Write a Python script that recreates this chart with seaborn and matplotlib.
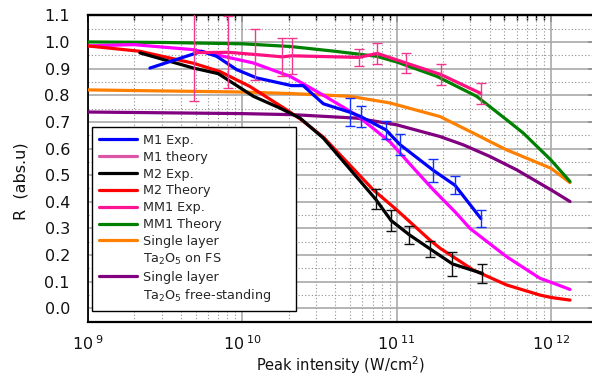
import numpy as np
import pandas as pd
import matplotlib
matplotlib.use("Agg")
import matplotlib.pyplot as plt
from matplotlib.lines import Line2D
from matplotlib.ticker import LogLocator, MultipleLocator, FuncFormatter, NullFormatter
import seaborn as sns

# ---- data: reflectivity R vs. peak intensity (W/cm^2) ----
m1_exp_x = [2.52e9, 5.46e9, 6.82e9, 9.2e9, 1.24e10, 2.09e10, 2.48e10, 3.35e10,
            4.99e10, 5.85e10, 8.53e10, 1.05e11, 1.73e11, 2.39e11, 3.52e11]
m1_exp_y = [0.902, 0.965, 0.946, 0.896, 0.865, 0.836, 0.836, 0.768,
            0.736, 0.720, 0.670, 0.615, 0.518, 0.462, 0.337]
m1_exp_err = [np.nan] * 8 + [0.053, 0.040, 0.035, 0.039, 0.042, 0.033, 0.033]

m1_th_x = [1e9, 1.97e9, 4.82e9, 1.18e10, 2.04e10, 3.35e10, 5.51e10, 9.06e10,
           1.28e11, 1.73e11, 2.44e11, 2.99e11, 5.16e11, 8.49e11, 1e12, 1.33e12]
m1_th_y = [0.985, 0.990, 0.971, 0.921, 0.871, 0.800, 0.725, 0.625,
           0.528, 0.445, 0.357, 0.300, 0.194, 0.113, 0.098, 0.071]

m2_exp_x = [2.17e9, 4.82e9, 6.98e9, 1.18e10, 1.75e10, 2.37e10, 3.35e10,
            7.31e10, 9.2e10, 1.21e11, 1.64e11, 2.3e11, 3.6e11]
m2_exp_y = [0.959, 0.902, 0.881, 0.796, 0.752, 0.714, 0.639,
            0.410, 0.330, 0.276, 0.224, 0.167, 0.131]
m2_exp_err = [np.nan] * 7 + [0.038, 0.038, 0.035, 0.030, 0.046, 0.035]

m2_th_x = [1e9, 2.17e9, 4.82e9, 7.16e9, 1.12e10, 1.94e10, 2.37e10, 3.35e10,
           7.06e10, 1e11, 1.64e11, 1.91e11, 3.14e11, 5.16e11, 8.49e11, 1e12, 1.33e12]
m2_th_y = [0.985, 0.965, 0.920, 0.889, 0.833, 0.745, 0.711, 0.643,
           0.445, 0.370, 0.257, 0.226, 0.144, 0.088, 0.050, 0.041, 0.031]

mm1_exp_x = [4.89e9, 8.11e9, 1.21e10, 1.82e10, 2.09e10, 5.7e10, 7.5e10,
             1.15e11, 1.93e11, 3.51e11]
mm1_exp_y = [0.960, 0.961, 0.953, 0.944, 0.948, 0.942, 0.957, 0.921, 0.878, 0.807]
mm1_exp_err = [0.180, 0.135, 0.095, 0.071, 0.068, 0.032, 0.040, 0.038, 0.039, 0.039]

mm1_th_x = [1e9, 3.16e9, 1e10, 2.04e10, 3.98e10, 7.43e10, 1e11, 1.82e11,
            3.3e11, 5.16e11, 6.62e11, 1e12, 1.33e12]
mm1_th_y = [1.000, 0.998, 0.993, 0.983, 0.965, 0.946, 0.925, 0.871,
            0.796, 0.708, 0.658, 0.557, 0.476]

fs_x = [1e9, 1e10, 2.14e10, 4.99e10, 9.06e10, 1.91e11, 3.14e11, 4.03e11,
        5.16e11, 1e12, 1.33e12]
fs_y = [0.820, 0.812, 0.806, 0.796, 0.771, 0.720, 0.658, 0.626,
        0.595, 0.526, 0.472]

free_x = [1e9, 1e10, 2.14e10, 5.51e10, 1e11, 1.91e11, 2.7e11, 4.03e11,
          6.0e11, 1e12, 1.33e12]
free_y = [0.737, 0.731, 0.727, 0.714, 0.689, 0.645, 0.614, 0.570,
          0.520, 0.445, 0.401]

series = {
    "Single layer Ta2O5 on FS": (fs_x, fs_y, "#ff8000"),
    "Single layer Ta2O5 free-standing": (free_x, free_y, "#800080"),
    "MM1 Theory": (mm1_th_x, mm1_th_y, "#008000"),
    "M1 theory": (m1_th_x, m1_th_y, "#ff00ff"),
    "M2 Theory": (m2_th_x, m2_th_y, "#ff0000"),
    "M2 Exp.": (m2_exp_x, m2_exp_y, "#000000"),
    "M1 Exp.": (m1_exp_x, m1_exp_y, "#0000ff"),
    "MM1 Exp.": (mm1_exp_x, mm1_exp_y, "#ff1080"),
}

frames = [pd.DataFrame({"intensity": xs, "R": ys, "series": name})
          for name, (xs, ys, _) in series.items()]
df = pd.concat(frames, ignore_index=True)
palette = {name: c for name, (_, _, c) in series.items()}

sns.set_theme(style="white")
plt.rcParams["font.family"] = ["DejaVu Sans"]
plt.rcParams["mathtext.default"] = "regular"

fig = plt.figure(figsize=(5.92, 3.79), dpi=100)
ax = fig.add_axes([88 / 592, 1 - 321.7 / 379, 505.5 / 592, 306.4 / 379])
ax.set_xscale("log")

sns.lineplot(data=df, x="intensity", y="R", hue="series", hue_order=list(series),
             palette=palette, estimator=None, sort=False, linewidth=2.3,
             legend=False, ax=ax, zorder=3)

def draw_errors(xs, ys, errs, color):
    xs, ys, errs = np.asarray(xs), np.asarray(ys), np.asarray(errs, dtype=float)
    keep = ~np.isnan(errs)
    ax.errorbar(xs[keep], ys[keep], yerr=errs[keep], fmt="none", ecolor=color,
                elinewidth=1.0, capsize=3.8, capthick=1.0, zorder=4)

draw_errors(mm1_exp_x, mm1_exp_y, mm1_exp_err, "#f0388c")
draw_errors(m1_exp_x, m1_exp_y, m1_exp_err, "#1030ff")
draw_errors(m2_exp_x, m2_exp_y, m2_exp_err, "#101010")

ax.set_xlim(1e9, 10 ** 12.276)
ax.set_ylim(-0.05, 1.1)

ax.xaxis.set_major_locator(LogLocator(base=10, numticks=10))
ax.xaxis.set_minor_locator(LogLocator(base=10, subs=np.arange(2, 10), numticks=20))
ax.xaxis.set_minor_formatter(NullFormatter())
ax.xaxis.set_major_formatter(FuncFormatter(
    lambda v, p: r"$10^{\;%d}$" % int(round(np.log10(v)))))
ax.yaxis.set_major_locator(MultipleLocator(0.1))
ax.yaxis.set_minor_locator(MultipleLocator(0.05))
ax.yaxis.set_major_formatter(FuncFormatter(lambda v, p: "%.1f" % v if v > -0.01 else ""))

ax.set_axisbelow(True)
ax.grid(which="major", color="#a9a9a9", linewidth=1.2, linestyle="-")
ax.grid(which="minor", color="#8f8f8f", linewidth=0.8, linestyle=(0, (1, 2)))

ax.tick_params(which="major", direction="out", length=5, width=1.1, color="black",
               labelsize=11.5, labelcolor="#111111")
ax.tick_params(which="minor", direction="out", length=3.5, width=1.0, color="black")
ax.tick_params(axis="x", which="major", pad=4)
ax.tick_params(axis="y", which="major", pad=8)

for side in ["left", "bottom", "top"]:
    ax.spines[side].set_color("black")
ax.spines["left"].set_linewidth(1.3)
ax.spines["bottom"].set_linewidth(1.6)
ax.spines["top"].set_linewidth(1.6)
ax.spines["right"].set_visible(False)

# inward ticks along the top and right edges
secx = ax.secondary_xaxis("top")
secx.xaxis.set_major_locator(LogLocator(base=10, numticks=10))
secx.xaxis.set_minor_locator(LogLocator(base=10, subs=np.arange(2, 10), numticks=20))
secx.xaxis.set_major_formatter(NullFormatter())
secx.xaxis.set_minor_formatter(NullFormatter())
secx.tick_params(which="major", direction="in", length=5, width=1.1, color="black")
secx.tick_params(which="minor", direction="in", length=3.5, width=1.0, color="black")
secx.spines["top"].set_linewidth(1.6)

secy = ax.secondary_yaxis("right")
secy.yaxis.set_major_locator(MultipleLocator(0.1))
secy.yaxis.set_minor_locator(MultipleLocator(0.05))
secy.yaxis.set_major_formatter(NullFormatter())
secy.tick_params(which="major", direction="in", length=4, width=1.1, color="black")
secy.tick_params(which="minor", direction="in", length=0)

ax.set_xlabel("Peak intensity (W/cm$^2$)", fontsize=10.5, color="#111111", labelpad=1)
ax.set_ylabel("R  (abs.u)", fontsize=11.5, color="#111111")
ax.yaxis.set_label_coords(-0.118, 0.46)

# legend: two-line entries keep the swatch beside their first line
blank = Line2D([], [], color="none")
handles = [
    Line2D([], [], color="#0000ff", lw=2.3),
    Line2D([], [], color="#dd55a5", lw=2.3),
    Line2D([], [], color="#000000", lw=2.3),
    Line2D([], [], color="#ff0000", lw=2.3),
    Line2D([], [], color="#ff1493", lw=2.3),
    Line2D([], [], color="#008000", lw=2.3),
    Line2D([], [], color="#ff8000", lw=2.3),
    blank,
    Line2D([], [], color="#800080", lw=2.3),
    blank,
]
labels = ["M1 Exp.", "M1 theory", "M2 Exp.", "M2 Theory", "MM1 Exp.", "MM1 Theory",
          "Single layer", r"Ta$_2$O$_5$ on FS", "Single layer",
          r"Ta$_2$O$_5$ free-standing"]
leg = ax.legend(handles, labels, loc="upper left",
                bbox_to_anchor=(0.008, 0.0, 0.4036, 0.636), mode="expand",
                borderaxespad=0, frameon=True, fancybox=False, framealpha=1,
                edgecolor="black", fontsize=9.2, handlelength=3.0, handletextpad=0.4,
                labelspacing=0.3, borderpad=0.55)
leg.get_frame().set_linewidth(1.0)
leg.set_zorder(10)

fig.savefig("out.png", dpi=100)
